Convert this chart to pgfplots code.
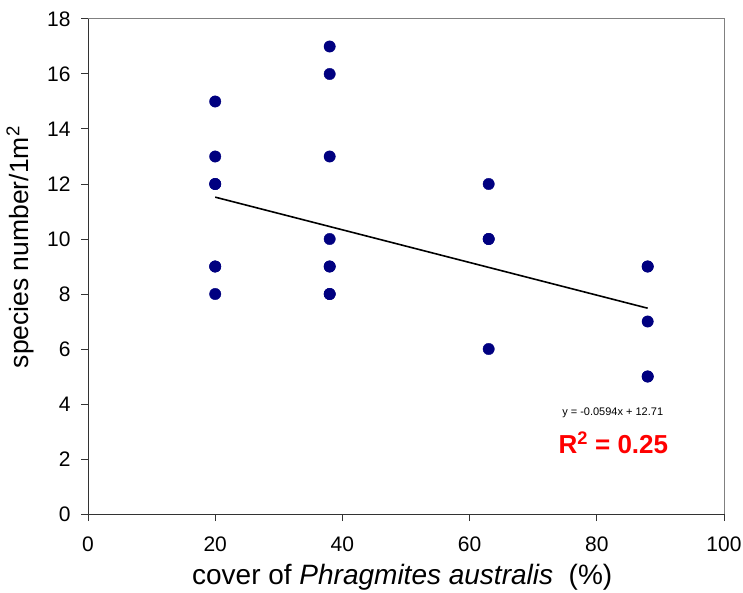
\documentclass[border=0pt]{standalone}
\usepackage{fontspec}
\setmainfont{Liberation Sans}
\usepackage{pgfplots}
\pgfplotsset{compat=1.18}
\definecolor{navyd}{RGB}{0,0,128}
\definecolor{axl}{RGB}{51,51,51}
\begin{document}
\begin{tikzpicture}
\useasboundingbox (-88pt,-78pt) rectangle (655pt,514pt);
\begin{axis}[
  scale only axis,
  width=636pt, height=495pt,
  xmin=0, xmax=100, ymin=0, ymax=18,
  xtick={0,20,...,100}, ytick={0,2,...,18},
  axis x line*=bottom, axis y line*=left,
  axis line style={axl, line width=1pt, -},
  tick style={axl, line width=1pt},
  tick align=outside,
  major tick length=7pt,
  /pgf/number format/assume math mode=true,
  tick label style={font=\fontsize{21}{25}\selectfont},
  xticklabel style={yshift=-12pt},
  yticklabel style={xshift=-7pt},
  xlabel={cover of \textit{Phragmites australis}\ \ (\%)},
  ylabel={species number/1m\textsuperscript{2}},
  xlabel style={font=\fontsize{28}{32}\selectfont, at={(axis description cs:0.494,-0.1273)}, anchor=center},
  ylabel style={font=\fontsize{26.5}{30}\selectfont, at={(axis description cs:-0.1065,0.539)}, anchor=center},
  clip=false,
]
\draw[gray, line width=1pt] (rel axis cs:0,1) -- (rel axis cs:1,1) -- (rel axis cs:1,0);
\addplot[only marks, mark=*, mark size=5.7pt, color=navyd, mark options={fill=navyd, draw=navyd}]
  coordinates {
    (20,15) (20,13) (20,12) (20,12) (20,9) (20,9) (20,8)
    (38,17) (38,16) (38,13) (38,10) (38,9) (38,9) (38,8) (38,8)
    (63,12) (63,10) (63,10) (63,6)
    (88,9) (88,9) (88,7) (88,5) (88,5)
  };
\addplot[black, line width=1.6pt] coordinates {(20,11.522) (88,7.483)};
\node[font=\fontsize{11}{13}\selectfont, anchor=center] at (axis cs:82.5,3.67) {y = -0.0594x + 12.71};
\node[font=\fontsize{26}{30}\selectfont\bfseries, text=red, anchor=center] at (axis cs:82.6,2.6) {R\textsuperscript{2} = 0.25};
\end{axis}
\end{tikzpicture}
\end{document}
